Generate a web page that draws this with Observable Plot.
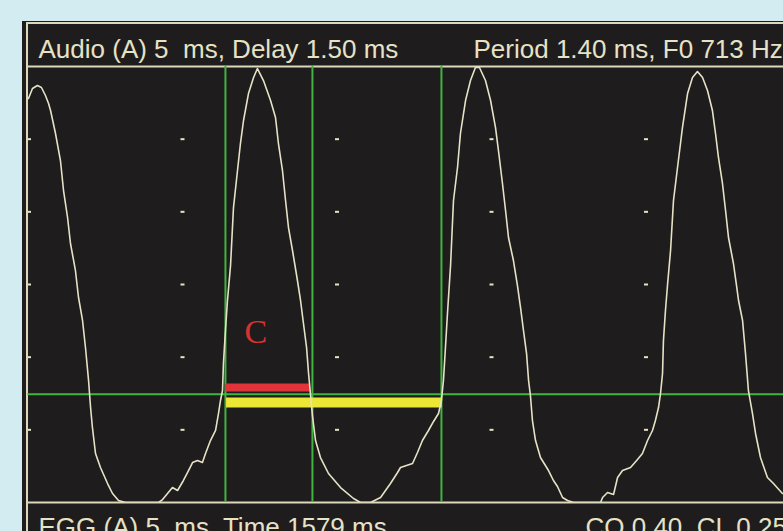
<!DOCTYPE html>
<html>
<head>
<meta charset="utf-8">
<script src="https://cdn.jsdelivr.net/npm/d3@7"></script>
<script src="https://cdn.jsdelivr.net/npm/@observablehq/plot@0.6"></script>
<style>
  html, body { margin: 0; padding: 0; width: 783px; height: 531px; overflow: hidden; background: #d3ecf1; }
  #panel { position: absolute; left: 22px; top: 21px; width: 761px; height: 510px; background: #1f1c1d; }
  #edge { position: absolute; left: 26px; top: 22px; width: 757px; height: 509px; border-left: 2px solid #dcd8bc; border-top: 2px solid #dcd8bc; box-sizing: border-box; }
  #chart { position: absolute; left: 0; top: 0; }
</style>
</head>
<body>
<div id="panel"></div>
<div id="edge"></div>
<div id="chart"></div>
<script>
// EGG waveform, time in ms, amplitude in grid divisions (0 = bottom, 6 = top)
const timeMs = [0.003,0.029,0.061,0.087,0.113,0.133,0.146,0.178,0.210,0.230,0.256,0.275,0.307,0.327,0.353,0.372,0.392,0.405,0.417,0.437,0.469,0.515,0.547,0.586,0.631,0.845,0.871,0.903,0.935,0.968,1.006,1.039,1.065,1.097,1.129,1.149,1.181,1.214,1.233,1.246,1.259,1.265,1.278,1.291,1.311,1.330,1.356,1.375,1.395,1.427,1.460,1.485,1.524,1.570,1.602,1.621,1.647,1.667,1.686,1.712,1.744,1.764,1.783,1.803,1.816,1.828,1.841,1.861,1.893,1.945,2.023,2.107,2.152,2.217,2.282,2.346,2.392,2.411,2.489,2.521,2.553,2.592,2.625,2.657,2.676,2.689,2.702,2.715,2.735,2.754,2.780,2.799,2.832,2.864,2.896,2.922,2.961,2.994,3.026,3.045,3.071,3.091,3.110,3.142,3.168,3.188,3.207,3.227,3.240,3.252,3.265,3.285,3.317,3.369,3.401,3.427,3.460,3.492,3.531,3.706,3.719,3.751,3.790,3.816,3.848,3.900,3.945,3.977,4.010,4.042,4.061,4.081,4.094,4.107,4.113,4.126,4.139,4.159,4.178,4.204,4.236,4.269,4.301,4.333,4.366,4.398,4.430,4.450,4.469,4.495,4.515,4.534,4.566,4.586,4.599,4.625,4.644,4.663,4.689,4.709,4.741,4.786,4.825,4.883];
const amplitude = [5.559,5.697,5.738,5.711,5.601,5.491,5.394,5.078,4.706,4.293,3.922,3.564,3.193,2.821,2.505,2.133,1.679,1.307,1.032,0.674,0.482,0.261,0.124,0.028,0,0,0.041,0.124,0.206,0.165,0.303,0.440,0.550,0.578,0.550,0.674,0.853,0.991,1.225,1.404,1.541,1.913,2.367,2.780,3.261,4.059,4.569,4.940,5.257,5.628,5.848,5.972,5.807,5.532,5.298,4.940,4.569,4.156,3.784,3.468,3.055,2.780,2.463,2.133,1.775,1.500,1.197,0.853,0.619,0.399,0.206,0.055,0,0,0.069,0.261,0.413,0.482,0.537,0.688,0.853,0.991,1.115,1.225,1.404,1.679,2.133,2.601,3.261,4.156,4.610,5.078,5.532,5.807,5.986,5.986,5.807,5.532,5.160,4.844,4.390,4.018,3.647,3.330,2.986,2.683,2.367,2.050,1.679,1.472,1.128,0.853,0.619,0.440,0.303,0.220,0.069,0.028,0,0,0.069,0.138,0.110,0.344,0.440,0.482,0.592,0.674,0.853,0.991,1.128,1.307,1.500,1.775,2.229,2.642,2.986,3.468,4.156,4.610,5.160,5.628,5.848,5.931,5.848,5.670,5.394,5.078,4.748,4.390,4.018,3.647,3.289,2.986,2.780,2.505,2.050,1.541,1.225,0.950,0.619,0.344,0.261,0.124];

// cursors (ms) and criterion level (divisions)
const cursorMs = [1.278, 1.841, 2.676];
const levelDiv = [1.49];

// grid markers
const gridMs = [1, 2, 3, 4];
const gridDiv = [1, 2, 3, 4, 5];

// contact (red) and period (yellow) bars
const barName = ["contact", "period"];
const barStart = [1.278, 1.285];
const barEnd = [1.828, 2.681];
const barLevel = [1.583, 1.376];

// labels
const headerLeft = "Audio (A) 5  ms, Delay 1.50 ms";
const headerRight = "Period 1.40 ms, F0 713 Hz";
const footerLeft = "EGG (A) 5  ms, Time 1579 ms";
const footerRight = "CQ 0.40, CL 0.25";
const contactLabel = {text: "C", t: 1.474, v: 2.19};

const wave = timeMs.map((t, i) => ({t, v: amplitude[i]}));
const grid = gridMs.flatMap(t => gridDiv.map(v => ({t, v})));
const leftTicks = gridDiv.map(v => ({t: 0, v}));
const bars = barName.map((name, i) => ({name, x1: barStart[i], x2: barEnd[i], y: barLevel[i]}));

const dash = {draw(ctx) { ctx.rect(-2, -1, 4, 2); }};
const stub = {draw(ctx) { ctx.rect(0, -1, 3, 2); }};

const cream = "#e6e2c6";
const font = "'Liberation Sans', Arial, sans-serif";

const chart = Plot.plot({
  width: 783,
  height: 531,
  marginLeft: 27.5,
  marginRight: 0,
  marginTop: 66,
  marginBottom: 29,
  x: {domain: [0, 4.89], axis: null},
  y: {domain: [0, 6], axis: null},
  style: {background: "transparent", overflow: "hidden"},
  marks: [
    Plot.dot(grid, {x: "t", y: "v", symbol: dash, fill: cream, stroke: null, r: 2}),
    Plot.dot(leftTicks, {x: "t", y: "v", symbol: stub, fill: cream, stroke: null, r: 2}),
    Plot.ruleY([0, 6], {stroke: "#dcd8bc", strokeWidth: 2}),
    Plot.ruleX(cursorMs, {stroke: "#3fb43f", strokeWidth: 2}),
    Plot.ruleY(levelDiv, {stroke: "#3fb43f", strokeWidth: 2}),
    Plot.ruleY(bars.slice(0, 1), {x1: "x1", x2: "x2", y: "y", stroke: "#e0343a", strokeWidth: 8}),
    Plot.ruleY(bars.slice(1), {x1: "x1", x2: "x2", y: "y", stroke: "#ece634", strokeWidth: 10}),
    Plot.line(wave, {x: "t", y: "v", stroke: cream, strokeWidth: 1.6, clip: true}),
    Plot.text([contactLabel], {x: "t", y: "v", text: "text", fill: "#d6322f", fontSize: 34, fontFamily: "'Liberation Serif', 'Times New Roman', serif", lineAnchor: "bottom", textAnchor: "middle"}),
    Plot.text([headerLeft], {frameAnchor: "top-left", dx: 10.5, dy: -9, lineAnchor: "bottom", textAnchor: "start", fill: cream, fontSize: 26, fontFamily: font}),
    Plot.text([headerRight], {frameAnchor: "top-left", dx: 445.5, dy: -9, lineAnchor: "bottom", textAnchor: "start", fill: cream, fontSize: 26, fontFamily: font}),
    Plot.text([footerLeft], {frameAnchor: "bottom-left", dx: 10.5, dy: 33, lineAnchor: "bottom", textAnchor: "start", fill: cream, fontSize: 26, fontFamily: font}),
    Plot.text([footerRight], {frameAnchor: "bottom-left", dx: 557.5, dy: 33, lineAnchor: "bottom", textAnchor: "start", fill: cream, fontSize: 26, fontFamily: font})
  ]
});
document.getElementById("chart").appendChild(chart);
</script>
</body>
</html>
